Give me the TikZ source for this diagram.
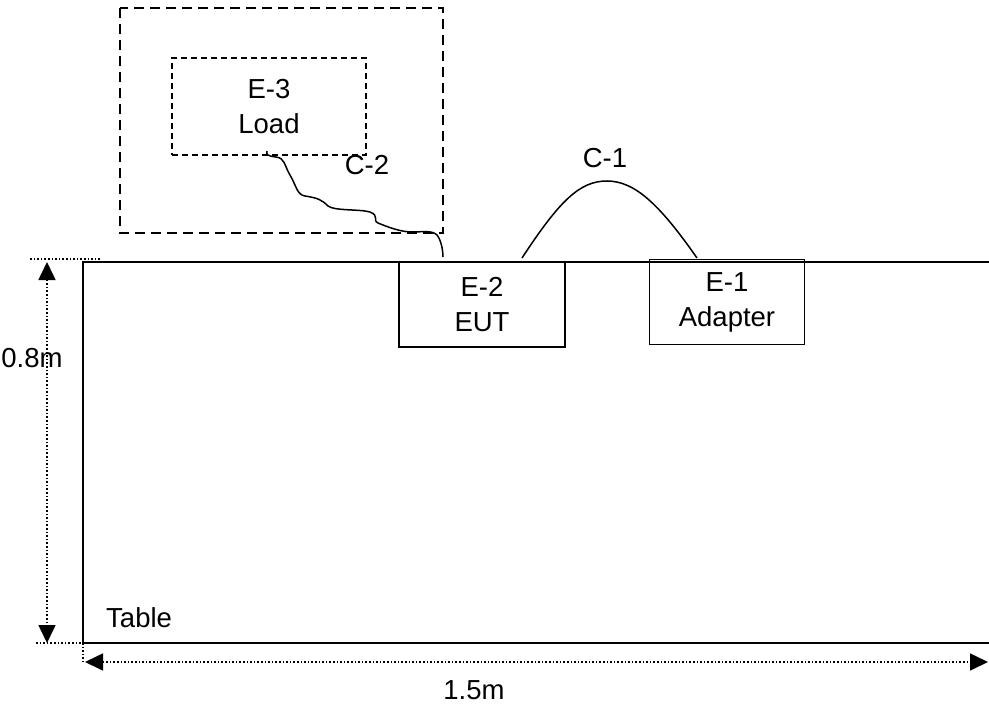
\documentclass[tikz,border=0pt]{standalone}
\usepackage{fontspec}
\setmainfont{Liberation Sans}
\usetikzlibrary{arrows.meta}
\begin{document}
\begin{tikzpicture}[x=1pt,y=-1pt,
  lbl/.style={font=\fontsize{27.5}{35}\selectfont, inner sep=0pt, align=center},
  box/.style={draw, line width=1.6pt, lbl, minimum width=#1},
  dimline/.style={dotted, line width=1.6pt},
  dimarrow/.style={dimline, {Triangle[length=18pt,width=17pt]}-{Triangle[length=18pt,width=17pt]}},
  cable/.style={line width=1.5pt}
]
\useasboundingbox (0,0) rectangle (989,709);
% table
\coordinate (tl) at (83,262);
\coordinate (tr) at (989,262);
\coordinate (bl) at (83,643);
\coordinate (br) at (989,643);
\draw[line width=1.9pt] (tr) -- (tl) -- (bl) -- (br);
\node[lbl, anchor=west] (table) at (106,618) {Table};
% dimension lines
\coordinate (h1a) at (30,259);
\coordinate (h1b) at (101,259);
\coordinate (h2a) at (36,643);
\coordinate (h2b) at (106,643);
\draw[dimline] (h1a) -- (h1b);
\draw[dimline] (h2a) -- (h2b);
\coordinate (v1a) at (47,262);
\coordinate (v1b) at (47,643);
\draw[dimarrow] (v1a) -- (v1b);
\node[lbl] (h) at (32,358) {0.8m};
\coordinate (vd) at (83,662);
\draw[dimline] (bl) -- (vd);
\coordinate (harr1) at (85,662);
\coordinate (harr2) at (988,662);
\draw[dimarrow] (harr1) -- (harr2);
\node[lbl] (w) at (474,690) {1.5m};
% boxes
\node[box=166, minimum height=85] (eut) at (482,304.5) {E-2\\EUT};
\node[box=155, minimum height=85] (adp) at (727,302) {E-1\\Adapter};
\draw[dashed, line width=2.4pt, dash pattern=on 10pt off 6pt] (120,8) rectangle (443,233);
\node[draw, dashed, line width=1.5pt, dash pattern=on 6pt off 4pt, lbl, minimum width=194, minimum height=97] (load) at (269,106.5) {E-3\\Load};
% cables
\coordinate (c1a) at (522,258);
\coordinate (c1b) at (697,258);
\draw[cable] (c1a) .. controls (560,200) and (580,181) .. (607,181) .. controls (635,181) and (660,205) .. (c1b);
\node[lbl] (c1) at (605,158) {C-1};
\coordinate (c2a) at (267,151);
\coordinate (c2b) at (443,257);
\draw[cable] (c2a) .. controls (266,155) and (268,156) .. (276,157)
  .. controls (285,158) and (284,165) .. (290,175)
  .. controls (296,185) and (297,195) .. (305,196)
  .. controls (318,198) and (322,200) .. (328,206)
  .. controls (334,211) and (360,209) .. (370,212)
  .. controls (380,216) and (372,220) .. (378,223)
  .. controls (390,228) and (402,232) .. (412,232)
  .. controls (422,232) and (432,230) .. (437,235)
  .. controls (441,240) and (443,250) .. (c2b);
\node[lbl] (c2) at (367,165) {C-2};
\end{tikzpicture}
\end{document}
